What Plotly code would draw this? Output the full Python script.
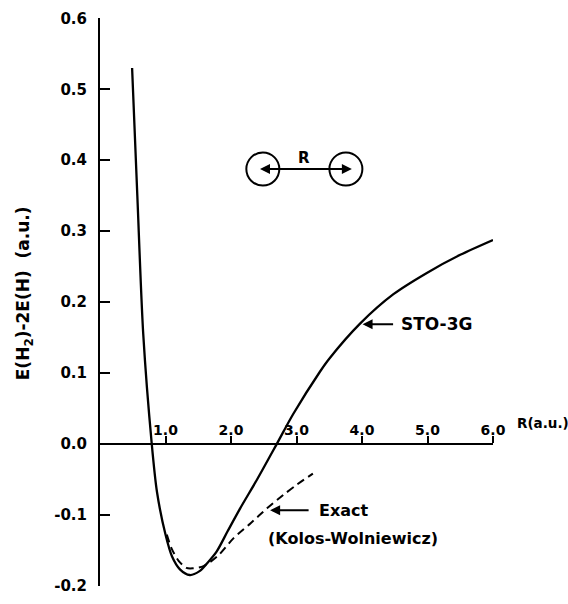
import plotly.graph_objects as go

# STO-3G curve
sto_R = [0.49, 0.57, 0.66, 0.79, 0.87, 1.0, 1.1, 1.22, 1.37, 1.52, 1.63, 1.78, 1.95, 2.14, 2.4, 2.7, 2.95, 3.36, 3.5, 3.97, 4.48, 4.99, 5.5, 6.0]
sto_E = [0.53, 0.35, 0.155, 0.0, -0.068, -0.128, -0.159, -0.177, -0.185, -0.1795, -0.169, -0.152, -0.123, -0.091, -0.050, 0.0, 0.042, 0.102, 0.120, 0.1695, 0.211, 0.241, 0.2665, 0.2875]

# Exact (Kolos-Wolniewicz) curve
exact_R = [1.02, 1.09, 1.2, 1.32, 1.42, 1.58, 1.8, 2.04, 2.3, 2.55, 2.8, 3.0, 3.25]
exact_E = [-0.128, -0.147, -0.165, -0.175, -0.1755, -0.1725, -0.158, -0.133, -0.112, -0.091, -0.072, -0.058, -0.042]

x_ticks = [1, 2, 3, 4, 5, 6]
x_ticktext = ["1.0", "2.0", "3.0", "4.0", "5.0", "6.0"]
y_ticks = [0.6, 0.5, 0.4, 0.3, 0.2, 0.1, 0.0, -0.1, -0.2]
y_ticktext = ["0.6", "0.5", "0.4", "0.3", "0.2", "0.1", "0.0", "-0.1", "-0.2"]

FONT = "DejaVu Sans"

fig = go.Figure()
fig.add_trace(go.Scatter(x=sto_R, y=sto_E, mode="lines", line=dict(color="black", width=2.3, shape="spline", smoothing=0.8), showlegend=False))
fig.add_trace(go.Scatter(x=exact_R, y=exact_E, mode="lines", line=dict(color="black", width=2, dash="8px,5px", shape="spline", smoothing=0.8), showlegend=False))

fig.update_layout(
    width=568, height=604,
    margin=dict(l=100, r=75, t=18, b=9),
    paper_bgcolor="white", plot_bgcolor="white",
    xaxis=dict(range=[0, 6.0], anchor="free", position=0.25, side="top",
               showline=True, linewidth=2, linecolor="black",
               ticks="outside", ticklen=7, tickwidth=2, tickcolor="black",
               tickvals=x_ticks, ticktext=x_ticktext, ticklabelstandoff=-5,
               tickfont=dict(family=FONT, size=14, color="black", weight="bold"),
               showgrid=False, zeroline=False),
    yaxis=dict(range=[-0.2005, 0.6005],
               showline=True, linewidth=2, linecolor="black",
               ticks="inside", ticklen=10, tickwidth=2, tickcolor="black",
               tickvals=y_ticks, ticktext=y_ticktext, ticklabelstandoff=8,
               tickfont=dict(family=FONT, size=15, color="black", weight="bold"),
               showgrid=False, zeroline=False),
)

# diagram of H2 molecule
for xc in [2.486, 3.754]:
    fig.add_shape(type="circle", xref="x", yref="y", xsizemode="pixel", ysizemode="pixel",
                  xanchor=xc, yanchor=0.3875, x0=-16.5, x1=16.5, y0=-16.5, y1=16.5,
                  line=dict(color="black", width=2))
fig.add_annotation(x=3.845, y=0.3875, ax=2.42, ay=0.3875, axref="x", ayref="y", xref="x", yref="y",
                   text="", showarrow=True, arrowside="end+start", arrowhead=2, arrowsize=1, arrowwidth=2, arrowcolor="black")
fig.add_annotation(x=3.12, y=0.4025, xref="x", yref="y", text="R", showarrow=False,
                   font=dict(family=FONT, size=15, color="black", weight="bold"))

# STO-3G label
fig.add_annotation(x=4.009, y=0.1685, xref="x", yref="y", ax=32, ay=0, text="",
                   showarrow=True, arrowhead=2, arrowsize=1, arrowwidth=2, arrowcolor="black")
fig.add_annotation(x=4.56, y=0.1685, xref="x", yref="y", text="STO-3G", showarrow=False, xanchor="left",
                   font=dict(family=FONT, size=17, color="black", weight="bold"))

# Exact label
fig.add_annotation(x=2.597, y=-0.0936, xref="x", yref="y", ax=40, ay=0, text="",
                   showarrow=True, arrowhead=2, arrowsize=1, arrowwidth=2, arrowcolor="black")
fig.add_annotation(x=3.31, y=-0.0936, xref="x", yref="y", text="Exact", showarrow=False, xanchor="left",
                   font=dict(family=FONT, size=16, color="black", weight="bold"))
fig.add_annotation(x=2.54, y=-0.133, xref="x", yref="y", text="(Kolos-Wolniewicz)", showarrow=False, xanchor="left",
                   font=dict(family=FONT, size=16, color="black", weight="bold"))

# x-axis unit label
fig.add_annotation(x=1.055, y=0.25, xref="paper", yref="paper", yshift=21, text="R(a.u.)", showarrow=False,
                   xanchor="left", yanchor="middle",
                   font=dict(family=FONT, size=13.5, color="black", weight="bold"))

# y-axis title
fig.add_annotation(x=-0.19, y=0.516, xref="paper", yref="paper", text="E(H<sub>2</sub>)-2E(H)  (a.u.)",
                   textangle=-90, showarrow=False, xanchor="center", yanchor="middle",
                   font=dict(family=FONT, size=17, color="black", weight="bold"))

fig.write_html("out.html", config={"displayModeBar": False},
               post_script="document.body.style.margin='0';")
